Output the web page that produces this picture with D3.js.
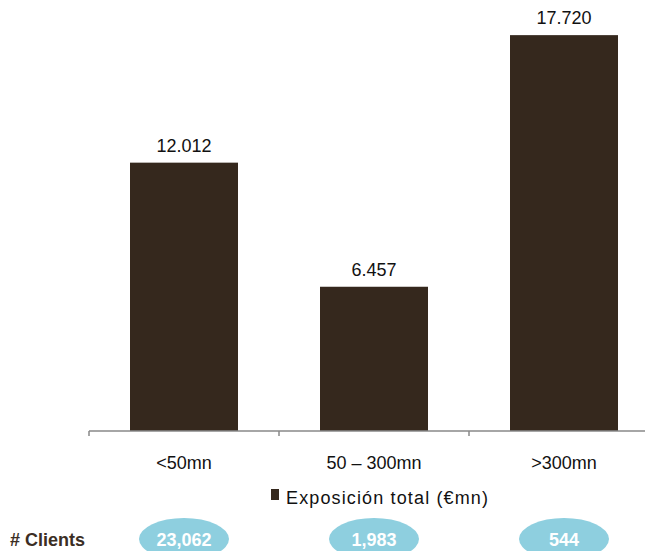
<!DOCTYPE html>
<html>
<head>
<meta charset="utf-8">
<script src="https://cdn.jsdelivr.net/npm/d3@7"></script>
<style>
  html, body { margin: 0; padding: 0; background: #fff; }
  svg { display: block; font-family: "Liberation Sans", Arial, sans-serif; }
</style>
</head>
<body>
<svg id="chart" width="645" height="551"></svg>
<script>
// Exposure by client size bucket
const categories = ["<50mn", "50 \u2013 300mn", ">300mn"];
const exposure = [12012, 6457, 17720];
const valueLabels = ["12.012", "6.457", "17.720"];
const clients = ["23,062", "1,983", "544"];
const seriesName = "Exposici\u00f3n total (\u20acmn)";

const svg = d3.select("#chart");
const barColor = "#35281d";
const pillColor = "#8ecfdf";

const x = d3.scaleBand()
  .domain(categories)
  .range([89, 659])
  .paddingInner(0.4316)
  .paddingOuter(0.2158);

const y = d3.scaleLinear()
  .domain([0, 20000])
  .range([431, -15.8]);

// bars
svg.append("g").selectAll("rect")
  .data(exposure)
  .join("rect")
  .attr("x", (d, i) => x(categories[i]))
  .attr("width", x.bandwidth())
  .attr("y", d => y(d))
  .attr("height", d => y(0) - y(d))
  .attr("fill", barColor);

// value labels
svg.append("g").selectAll("text")
  .data(exposure)
  .join("text")
  .attr("x", (d, i) => x(categories[i]) + x.bandwidth() / 2)
  .attr("y", d => y(d) - 11)
  .attr("text-anchor", "middle")
  .attr("font-size", 18)
  .attr("fill", "#111")
  .text((d, i) => valueLabels[i]);

// x axis: tick marks at band boundaries
const axisG = svg.append("g").attr("transform", `translate(0,${y(0)})`);
const step = x.step();
const x0 = x.range()[0];
axisG.append("line")
  .attr("x1", x0).attr("x2", 645)
  .attr("stroke", "#888").attr("stroke-width", 1.5);
axisG.selectAll("line.tick")
  .data(d3.range(categories.length + 1))
  .join("line")
  .attr("class", "tick")
  .attr("x1", i => x0 + i * step).attr("x2", i => x0 + i * step)
  .attr("y1", 0).attr("y2", 5)
  .attr("stroke", "#888").attr("stroke-width", 1.5);
axisG.selectAll("text")
  .data(categories)
  .join("text")
  .attr("x", d => x(d) + x.bandwidth() / 2)
  .attr("y", 38)
  .attr("text-anchor", "middle")
  .attr("font-size", 18)
  .attr("fill", "#111")
  .text(d => d);

// legend
const legend = svg.append("g");
legend.append("rect")
  .attr("x", 271).attr("y", 489).attr("width", 8).attr("height", 11)
  .attr("fill", barColor);
legend.append("text")
  .attr("x", 286).attr("y", 504)
  .attr("font-size", 18)
  .attr("fill", "#111")
  .attr("textLength", 202)
  .attr("lengthAdjust", "spacing")
  .text(seriesName);

// client counts row
svg.append("text")
  .attr("x", 10).attr("y", 546)
  .attr("font-size", 18)
  .attr("font-weight", "bold")
  .attr("fill", "#3b2e24")
  .text("# Clients");

const pills = svg.append("g").selectAll("g")
  .data(clients)
  .join("g")
  .attr("transform", (d, i) => `translate(${x(categories[i]) + x.bandwidth() / 2},539)`);
pills.append("ellipse")
  .attr("rx", 45).attr("ry", 21)
  .attr("fill", pillColor);
pills.append("text")
  .attr("y", 7)
  .attr("text-anchor", "middle")
  .attr("font-size", 18)
  .attr("font-weight", "bold")
  .attr("fill", "#fff")
  .text(d => d);
</script>
</body>
</html>
